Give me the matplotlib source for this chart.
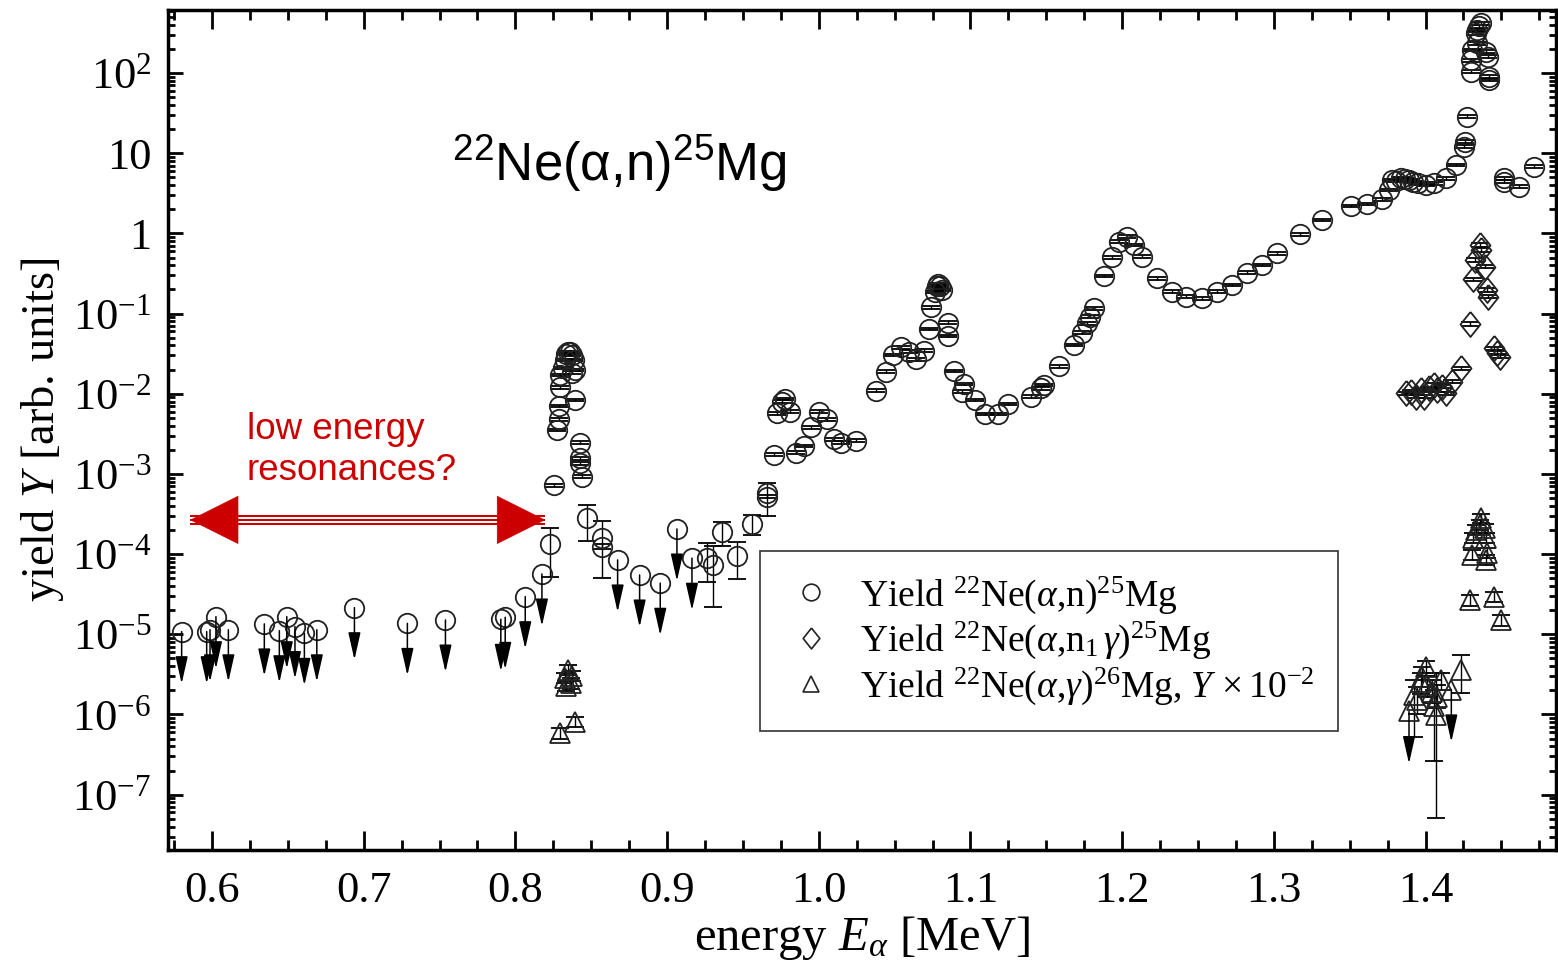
import matplotlib
matplotlib.use("Agg")
import matplotlib.pyplot as plt
import numpy as np
from matplotlib.lines import Line2D
from matplotlib.ticker import (FixedLocator, FixedFormatter, MultipleLocator,
                               FormatStrFormatter, LogLocator, NullFormatter)

plt.rcParams.update({
    "font.family": ["Liberation Serif", "DejaVu Serif"],
    "mathtext.fontset": "custom",
    "mathtext.rm": "Liberation Serif",
    "mathtext.it": "Liberation Serif:italic",
    "mathtext.bf": "Liberation Serif:bold",
    "mathtext.sf": "Liberation Sans",
})

# --- 22Ne(a,n)25Mg yield, small statistical errors -------------------------
N_E = [0.8256, 0.8274, 0.8285, 0.8285, 0.8291, 0.8296, 0.8315, 0.8329, 0.8335,
       0.8348, 0.8361, 0.8373, 0.8375, 0.8388, 0.8390, 0.8395, 0.8423, 0.8423,
       0.8427, 0.8439, 0.9659, 0.9703, 0.9725, 0.9758, 0.9780, 0.9808, 0.9852,
       0.9905, 0.9951, 1.0000, 1.0055, 1.0098, 1.0147, 1.0248, 1.0380, 1.0446,
       1.0490, 1.0543, 1.0593, 1.0644, 1.0697, 1.0725, 1.0741, 1.0763, 1.0777,
       1.0789, 1.0802, 1.0815, 1.0850, 1.0850, 1.0894, 1.0945, 1.0956, 1.1033,
       1.1099, 1.1180, 1.1249, 1.1396, 1.1462, 1.1488, 1.1582, 1.1681, 1.1737,
       1.1765, 1.1787, 1.1813, 1.1879, 1.1930, 1.1978, 1.2029, 1.2077, 1.2128,
       1.2232, 1.2331, 1.2418, 1.2528, 1.2623, 1.2726, 1.2821, 1.2924, 1.3018,
       1.3172, 1.3320, 1.3507, 1.3617, 1.3716, 1.3759, 1.3782, 1.3803, 1.3836,
       1.3863, 1.3891, 1.3916, 1.3947, 1.4002, 1.4056, 1.4134, 1.4200, 1.4254,
       1.4259, 1.4272, 1.4298, 1.4298, 1.4309, 1.4331, 1.4342, 1.4342, 1.4350,
       1.4364, 1.4398, 1.4409, 1.4420, 1.4420, 1.4515, 1.4518, 1.4617, 1.4716]
N_Y = [7.23e-4, 3.54e-3, 4.81e-3, 7.05e-3, 1.20e-2, 1.71e-2, 2.10e-2, 2.64e-2,
       3.13e-2, 3.32e-2, 3.32e-2, 1.83e-2, 3.05e-2, 2.64e-2, 8.38e-3, 1.98e-2,
       2.45e-3, 1.57e-3, 1.36e-3, 9.25e-4, 5.22e-4, 1.73e-3, 5.71e-3, 7.98e-3,
       8.62e-3, 5.98e-3, 1.85e-3, 2.23e-3, 3.82e-3, 5.98e-3, 4.81e-3, 2.71e-3,
       2.46e-3, 2.60e-3, 1.09e-2, 1.89e-2, 3.05e-2, 3.80e-2, 3.35e-2, 2.69e-2,
       3.45e-2, 6.43e-2, 0.120, 0.186, 0.221, 0.234, 0.221, 0.197, 7.71e-2,
       5.26e-2, 1.92e-2, 1.06e-2, 1.32e-2, 8.38e-3, 5.60e-3, 5.60e-3, 7.46e-3,
       9.20e-3, 1.17e-2, 1.29e-2, 2.19e-2, 4.06e-2, 5.78e-2, 7.57e-2, 9.15e-2,
       0.116, 0.294, 0.504, 0.789, 0.910, 0.716, 0.512, 0.275, 0.188, 0.163,
       0.155, 0.188, 0.228, 0.324, 0.404, 0.565, 0.975, 1.47, 2.20, 2.33, 2.66,
       3.47, 4.63, 4.50, 4.86, 4.77, 4.63, 4.37, 4.22, 4.02, 4.22, 4.86, 7.13,
       12.1, 13.9, 28.5, 104.0, 145.0, 194.0, 312.0, 234.0, 344.0, 385.0, 417.0,
       184.0, 160.0, 90.0, 81.8, 4.86, 4.41, 3.82, 6.79]
N_REL_ERR = 0.04

# --- 22Ne(a,n)25Mg, low-yield points with visible error bars ---------------
NB_E = [0.8225, 0.8472, 0.8571, 0.8571, 0.9263, 0.9303, 0.9362, 0.9461,
        0.9560, 0.9659]
NB_Y = [1.34e-4, 2.81e-4, 1.58e-4, 1.24e-4, 9.06e-5, 7.33e-5, 1.91e-4,
        9.50e-5, 2.36e-4, 5.74e-4]
NB_LO = [5.24e-5, 1.47e-4, 5.05e-5, 1.15e-4, 4.54e-5, 2.18e-5, 1.26e-4,
         4.87e-5, 1.74e-4, 2.99e-4]
NB_HI = [2.14e-4, 4.10e-4, 2.59e-4, 1.33e-4, 1.37e-4, 1.27e-4, 2.50e-4,
         1.43e-4, 3.08e-4, 7.78e-4]

# --- 22Ne(a,n)25Mg upper limits --------------------------------------------
NL_E = [0.5800, 0.5965, 0.5987, 0.6026, 0.6108, 0.6345, 0.6444, 0.6493,
        0.6547, 0.6609, 0.6691, 0.6939, 0.7288, 0.7539, 0.7904, 0.7933,
        0.8065, 0.8175, 0.8674, 0.8819, 0.8955, 0.9065, 0.9164]
NL_Y = [1.08e-5, 1.08e-5, 1.14e-5, 1.66e-5, 1.14e-5, 1.35e-5, 1.11e-5,
        1.66e-5, 1.25e-5, 1.03e-5, 1.14e-5, 2.15e-5, 1.37e-5, 1.51e-5,
        1.54e-5, 1.63e-5, 2.95e-5, 5.66e-5, 8.47e-5, 5.50e-5, 4.34e-5,
        2.06e-4, 8.90e-5]

# --- 22Ne(a,n1 g)25Mg ------------------------------------------------------
D_E = [1.3869, 1.3902, 1.3935, 1.3968, 1.3990, 1.4023, 1.4056, 1.4078,
       1.4111, 1.4133, 1.4177, 1.4232, 1.4290, 1.4314, 1.4324, 1.4357,
       1.4368, 1.4389, 1.4407, 1.4412, 1.4452, 1.4473, 1.4489]
D_Y = [0.0101, 0.0106, 0.0092, 0.0111, 0.0092, 0.0117, 0.0129, 0.0111,
       0.0123, 0.0101, 0.0142, 0.0208, 0.0741, 0.268, 0.466, 0.716, 0.621,
       0.385, 0.197, 0.163, 0.0369, 0.0326, 0.0290]
D_REL_ERR = 0.05

# --- 22Ne(a,g)26Mg, raw yield (drawn scaled by 1e-2) -----------------------
G_E = [0.8296, 0.8328, 0.8335, 0.8348, 0.8368, 0.8375, 0.8394, 1.3924,
       1.3946, 1.3968, 1.3979, 1.4001, 1.4012, 1.4045, 1.4056, 1.4067,
       1.4078, 1.4104, 1.4235, 1.4290, 1.4306, 1.4314, 1.4335, 1.4357,
       1.4368, 1.4390, 1.4399, 1.4399, 1.4408, 1.4451, 1.4495]
G_Y = [5.9e-5, 2.86e-4, 2.28e-4, 3.6e-4, 2.48e-4, 3.03e-4, 8.1e-5, 1.75e-4,
       1.52e-4, 2.57e-4, 2.97e-4, 3.95e-4, 2.34e-4, 1.93e-4, 1.26e-4,
       9.9e-5, 1.67e-4, 2.70e-4, 3.60e-4, 2.68e-3, 9.77e-3, 1.58e-2, 2.00e-2,
       2.31e-2, 2.81e-2, 2.10e-2, 1.58e-2, 8.47e-3, 1.03e-2, 2.95e-3, 1.51e-3]
G_LO = [5.0e-5, 2.45e-4, 1.95e-4, 3.1e-4, 2.1e-4, 2.6e-4, 6.9e-5, 5.3e-5,
        1.0e-4, 1.8e-4, 2.2e-4, 3.0e-4, 1.65e-4, 1.4e-4, 2.6e-5, 5.1e-6,
        1.2e-4, 2.0e-4, 1.84e-4, 2.25e-3, 8.4e-3, 1.36e-2, 1.72e-2, 1.99e-2,
        2.42e-2, 1.81e-2, 1.36e-2, 7.3e-3, 8.9e-3, 2.5e-3, 1.28e-3]
G_HI = [6.8e-5, 3.3e-4, 2.6e-4, 4.1e-4, 2.85e-4, 3.5e-4, 9.3e-5, 2.7e-4,
        2.2e-4, 3.3e-4, 3.9e-4, 4.6e-4, 3.0e-4, 2.7e-4, 2.0e-4, 3.27e-4,
        2.3e-4, 3.3e-4, 5.5e-4, 3.1e-3, 1.12e-2, 1.82e-2, 2.3e-2, 2.65e-2,
        3.2e-2, 2.4e-2, 1.82e-2, 9.7e-3, 1.18e-2, 3.4e-3, 1.74e-3]
G_SCALE = 1e-2
GL_E = [1.3891, 1.4170]
GL_Y = [1.09e-4, 2.03e-4]

Y_TICKS = [1e-7, 1e-6, 1e-5, 1e-4, 1e-3, 1e-2, 1e-1, 1, 10, 100]
Y_TICK_LABELS = [r"$10^{-7}$", r"$10^{-6}$", r"$10^{-5}$", r"$10^{-4}$",
                 r"$10^{-3}$", r"$10^{-2}$", r"$10^{-1}$", "1", "10",
                 r"$10^{2}$"]

ARROW_E = (0.5855, 0.8197)   # span of the "low energy" double arrow
ARROW_Y = 2.67e-4
LIMIT_DROP = 10 ** 0.65      # length of upper-limit arrows (in decades)

EDGE = "#222222"
RED = "#cc0000"

fig = plt.figure(figsize=(15.58, 9.67), dpi=100)
ax = fig.add_axes([168 / 1558, 117 / 967, 1388 / 1558, 840 / 967])

mk = dict(ls="none", mfc="none", mec=EDGE, mew=1.3, ecolor="k",
          elinewidth=1.0, capsize=6.5, capthick=1.0)

N_Y = np.array(N_Y)
ax.errorbar(N_E, N_Y, yerr=N_Y * N_REL_ERR, marker="o", ms=14, **mk)

NB_Y = np.array(NB_Y)
ax.errorbar(NB_E, NB_Y, yerr=[NB_Y - np.array(NB_LO), np.array(NB_HI) - NB_Y],
            marker="o", ms=14, **mk)

ax.plot(NL_E, NL_Y, ls="none", marker="o", ms=14, mfc="none", mec=EDGE, mew=1.3)

diamond = [(0, 1), (0.8, 0), (0, -1), (-0.8, 0), (0, 1)]
D_Y = np.array(D_Y)
ax.errorbar(D_E, D_Y, yerr=D_Y * D_REL_ERR, marker=diamond, ms=18, **mk)

g_y = np.array(G_Y) * G_SCALE
g_lo = np.array(G_LO) * G_SCALE
g_hi = np.array(G_HI) * G_SCALE
ax.errorbar(G_E, g_y, yerr=[g_y - g_lo, g_hi - g_y], marker="^", ms=14, **mk)
gl_y = np.array(GL_Y) * G_SCALE
ax.plot(GL_E, gl_y, ls="none", marker="^", ms=14, mfc="none", mec=EDGE, mew=1.3)


def limit_arrows(es, ys):
    for e, y in zip(es, ys):
        ax.annotate("", xy=(e, y / LIMIT_DROP), xytext=(e, y),
                    arrowprops=dict(arrowstyle="-|>,head_length=1.2,head_width=0.27",
                                    mutation_scale=14, color="k", lw=1.1,
                                    shrinkA=0, shrinkB=0))


limit_arrows(NL_E, NL_Y)
limit_arrows(GL_E, gl_y)

# red double arrow with triple-line shaft
ax.plot(ARROW_E, [ARROW_Y, ARROW_Y], color=RED, lw=7.2, solid_capstyle="butt")
ax.plot(ARROW_E, [ARROW_Y, ARROW_Y], color="white", lw=4.3, solid_capstyle="butt")
ax.plot(ARROW_E, [ARROW_Y, ARROW_Y], color=RED, lw=1.4, solid_capstyle="butt")
ax.annotate("", xy=(ARROW_E[1], ARROW_Y), xytext=(ARROW_E[0], ARROW_Y),
            arrowprops=dict(arrowstyle="<|-|>,head_length=34,head_width=17",
                            mutation_scale=1, color=RED, lw=0.5,
                            shrinkA=0, shrinkB=0))
ax.text(0.0569, 0.521, "low energy\nresonances?", transform=ax.transAxes,
        family="Liberation Sans", fontsize=26.5, color=RED, va="top",
        linespacing=1.2)

ax.text(0.2046, 0.797, r"$\mathsf{^{22}}$Ne(α,n)$\mathsf{^{25}}$Mg",
        transform=ax.transAxes, family="Liberation Sans", fontsize=38,
        va="baseline")

# axes
ax.set_yscale("log")
ax.set_xlim(0.571, 1.486)
ax.set_ylim(2.04e-8, 611)
ax.xaxis.set_major_locator(MultipleLocator(0.1))
ax.xaxis.set_minor_locator(MultipleLocator(0.025))
ax.xaxis.set_major_formatter(FormatStrFormatter("%.1f"))
ax.yaxis.set_major_locator(FixedLocator(Y_TICKS))
ax.yaxis.set_major_formatter(FixedFormatter(Y_TICK_LABELS))
ax.yaxis.set_minor_locator(LogLocator(base=10, subs=np.arange(2, 10), numticks=30))
ax.yaxis.set_minor_formatter(NullFormatter())

ax.tick_params(which="both", direction="in", top=True, right=True, width=2)
ax.tick_params(axis="x", which="major", length=14, labelsize=32, pad=15)
ax.tick_params(axis="x", which="minor", length=7)
ax.tick_params(axis="y", which="major", length=11, labelsize=32, pad=12)
ax.tick_params(axis="y", which="minor", length=5)
for s in ax.spines.values():
    s.set_linewidth(2.5)

ax.set_xlabel(r"energy $E_\alpha$ [MeV]", fontsize=35, labelpad=2)
ax.set_ylabel(r"yield $Y$ [arb. units]", fontsize=33.5, labelpad=4)

handles = [
    Line2D([], [], ls="none", marker="o", ms=12, mfc="none", mec=EDGE, mew=1.2),
    Line2D([], [], ls="none", marker=diamond, ms=15, mfc="none", mec=EDGE, mew=1.2),
    Line2D([], [], ls="none", marker="^", ms=11, mfc="none", mec=EDGE, mew=1.2),
]
labels = [
    r"Yield $^{22}$Ne($\alpha$,n)$^{25}$Mg",
    r"Yield $^{22}$Ne($\alpha$,n$_{1}\,\gamma$)$^{25}$Mg",
    r"Yield $^{22}$Ne($\alpha$,$\gamma$)$^{26}$Mg, $Y\,\times 10^{-2}$",
]
leg = ax.legend(handles, labels, loc="upper left", bbox_to_anchor=(0.4265, 0.356),
                fontsize=27, frameon=True, fancybox=False, edgecolor="#333333",
                framealpha=1, borderpad=0.62, labelspacing=0.12,
                handlelength=1.5, handletextpad=0.55, borderaxespad=0)
leg.get_frame().set_linewidth(1.2)

fig.savefig("out.png", dpi=100)
